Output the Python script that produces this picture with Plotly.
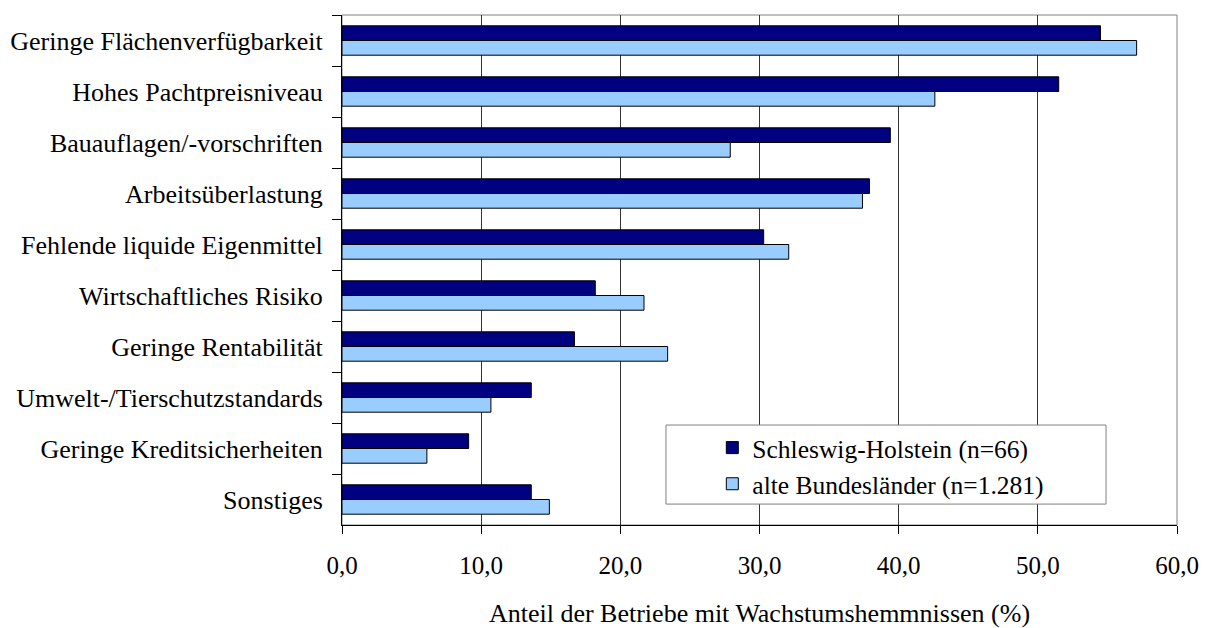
import plotly.graph_objects as go

# Growth obstacles named by farms, share of farms (%)
categories = [
    "Geringe Flächenverfügbarkeit",
    "Hohes Pachtpreisniveau",
    "Bauauflagen/-vorschriften",
    "Arbeitsüberlastung",
    "Fehlende liquide Eigenmittel",
    "Wirtschaftliches Risiko",
    "Geringe Rentabilität",
    "Umwelt-/Tierschutzstandards",
    "Geringe Kreditsicherheiten",
    "Sonstiges",
]
schleswig_holstein = [54.5, 51.5, 39.4, 37.9, 30.3, 18.2, 16.7, 13.6, 9.1, 13.6]
alte_bundeslaender = [57.1, 42.6, 27.9, 37.4, 32.1, 21.7, 23.4, 10.7, 6.1, 14.9]
series_names = ["Schleswig-Holstein (n=66)", "alte Bundesländer (n=1.281)"]
x_ticks = [0, 10, 20, 30, 40, 50, 60]
x_title = "Anteil der Betriebe mit Wachstumshemmnissen (%)"

FONT = "Liberation Serif"

fig = go.Figure()
fig.add_trace(go.Bar(
    y=categories, x=schleswig_holstein, orientation="h", name=series_names[0],
    marker=dict(color="#000080", line=dict(color="#000000", width=1)),
))
fig.add_trace(go.Bar(
    y=categories, x=alte_bundeslaender, orientation="h", name=series_names[1],
    marker=dict(color="#99CCFF", line=dict(color="#000000", width=1)),
))

# plot frame (top/right edges in grey) and legend box
fig.add_shape(type="rect", xref="paper", yref="paper", x0=0, x1=1, y0=0, y1=1,
              line=dict(color="#808080", width=1), layer="below")
fig.add_shape(type="rect", xref="paper", yref="paper", x0=0.388, x1=0.915,
              y0=0.041, y1=0.196, line=dict(color="#808080", width=1),
              fillcolor="white", layer="above")

fig.update_layout(
    width=1210, height=628,
    margin=dict(l=342, r=33, t=15, b=103, autoexpand=False),
    paper_bgcolor="white", plot_bgcolor="white",
    barmode="group", bargap=0.424, bargroupgap=0,
    separators=",.",
    font=dict(family=FONT, size=26, color="black"),
    legend=dict(
        x=0.4435, y=0.197, xanchor="left", yanchor="top",
        bgcolor="rgba(0,0,0,0)", borderwidth=0,
        font=dict(family=FONT, size=25.5, color="black"),
        traceorder="normal",
    ),
    xaxis=dict(
        range=[0, 60], tickvals=x_ticks, tickformat=".1f",
        tickfont=dict(family=FONT, size=25),
        showgrid=True, gridcolor="#333333", gridwidth=1,
        showline=True, linecolor="black", linewidth=1,
        ticks="outside", ticklen=8, tickcolor="black",
        zeroline=False, ticklabelstandoff=10,
        title=dict(text=x_title, standoff=42, font=dict(family=FONT, size=26)),
    ),
    yaxis=dict(
        autorange="reversed", showgrid=False,
        tickfont=dict(family=FONT, size=26),
        showline=True, linecolor="black", linewidth=1,
        ticks="outside", ticklen=9, tickcolor="black",
        tickson="boundaries", ticklabelstandoff=13,
    ),
    showlegend=True,
)

fig.write_html("out.html")
